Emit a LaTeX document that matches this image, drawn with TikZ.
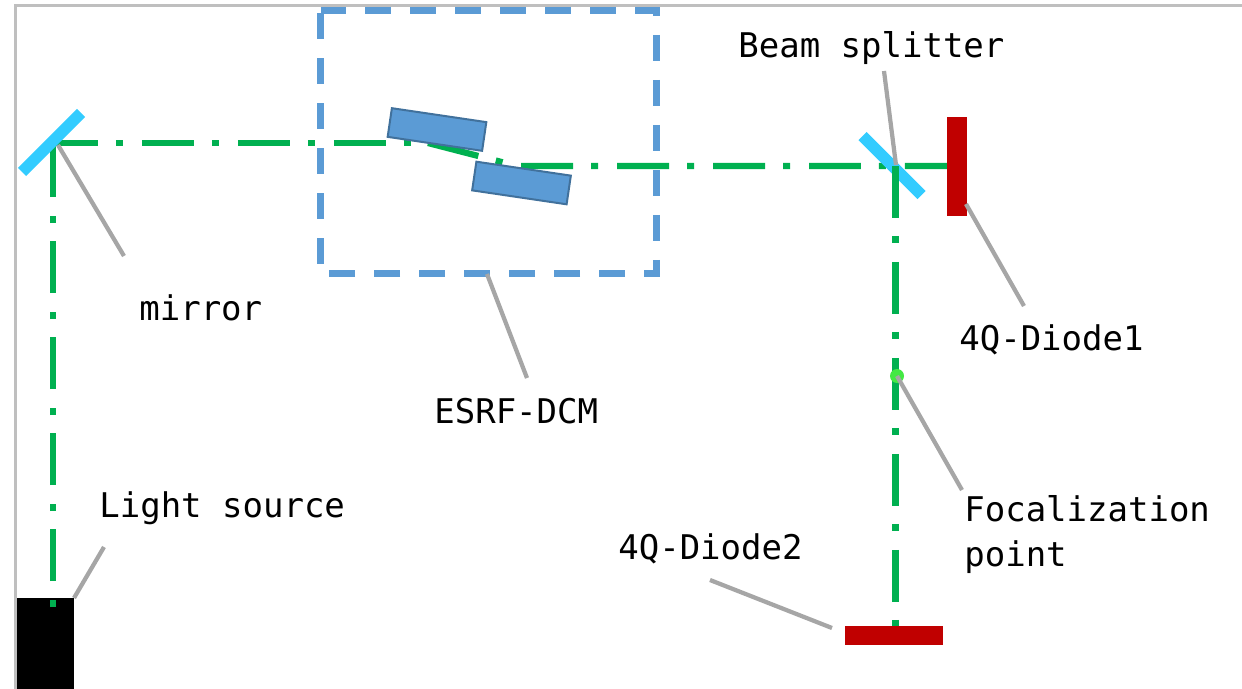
\documentclass[tikz,border=0pt]{standalone}
\usepackage{fontspec}
\usepackage{xcolor}
\setmonofont{DejaVu Sans Mono}
\definecolor{beamgreen}{HTML}{00B050}
\definecolor{boxblue}{HTML}{5B9BD5}
\definecolor{crystaledge}{HTML}{41719C}
\definecolor{mirrorblue}{HTML}{33CCFF}
\definecolor{diodered}{HTML}{C00000}
\definecolor{leadgray}{HTML}{A6A6A6}
\definecolor{framegray}{HTML}{BFBFBF}
\definecolor{focusgreen}{HTML}{44E844}
\tikzset{
	beam/.style={beamgreen, line width=0.125cm, dash pattern=on 1.04cm off 0.36cm on 0.14cm off 0.38cm},
	leader/.style={leadgray, line width=0.085cm},
	mirrorbar/.style={mirrorblue, line width=0.23cm},
	crystal/.style={draw=crystaledge, line width=0.04cm, fill=boxblue, inner sep=0pt, minimum width=1.91cm, minimum height=0.58cm, rotate=-8.4},
	diode/.style={fill=diodered, inner sep=0pt},
	lbl/.style={font=\ttfamily\fontsize{19.35}{25.5}\selectfont, inner sep=0pt, anchor=base west}
}
\begin{document}
\begin{tikzpicture}[x=0.02cm, y=-0.02cm]
	\useasboundingbox (0,0) rectangle (1242,689);

	% Frame of the screenshot
	\draw[framegray, line width=0.05cm] (15.5,689) -- (15.5,5.5) -- (1242,5.5);

	% Light source
	\node[fill=black, inner sep=0pt, minimum width=1.14cm, minimum height=1.82cm] (source) at (45.5,643.5) {};

	% Beam points
	\coordinate (S) at (53,607);
	\coordinate (M) at (53,143);
	\coordinate (C1) at (428,143);
	\coordinate (C2) at (517,166);
	\coordinate (B) at (895.5,166);
	\coordinate (D1) at (948,166);
	\coordinate (D2) at (895.5,627);

	% Beam up to the first diode
	\draw[beam, dash phase=1.4cm] (S) -- (M);
	\draw[beam, dash phase=0.14cm] (M) -- (C1);
	\draw[beam] (C1) -- (C2) -- (D1);

	% Monochromator box and crystals
	\draw[boxblue, line width=0.14cm, dash pattern=on 0.52cm off 0.38cm] (320.5,10.5) -- (656,10.5) -- (656,274) -- (320.5,274) -- cycle;
	\node[crystal] (crystal1) at (437,129.5) {};
	\node[crystal] (crystal2) at (521.5,183) {};

	% Mirror and beam splitter
	\draw[mirrorbar] (81,113) -- (22,172);
	\draw[mirrorbar] (862.5,136) -- (921.5,195);

	% Beam down to the second diode
	\draw[beam] (B) -- (D2);

	% Diodes
	\node[diode, minimum width=0.4cm, minimum height=1.98cm] (diode1) at (957,166.5) {};
	\node[diode, minimum width=1.96cm, minimum height=0.38cm] (diode2) at (894,635.5) {};

	% Focalization point
	\node[circle, fill=focusgreen, inner sep=0pt, minimum size=0.28cm] (focus) at (897,376) {};

	% Leader ends
	\coordinate (mirrortip) at (124,256);
	\coordinate (mirrorend) at (58,145);
	\coordinate (dcmtip) at (527,378);
	\coordinate (dcmend) at (487,274);
	\coordinate (splittertip) at (884,71);
	\coordinate (splitterend) at (896,165);
	\coordinate (diodetip) at (1024,306);
	\coordinate (diodeend) at (966,204);
	\coordinate (focustip) at (962,490);
	\coordinate (sourcetip) at (104,547);
	\coordinate (sourceend) at (74,598);
	\coordinate (secondtip) at (710,580);
	\coordinate (secondend) at (832,628);

	% Leaders
	\draw[leader] (mirrorend) -- (mirrortip);
	\draw[leader] (dcmend) -- (dcmtip);
	\draw[leader] (splittertip) -- (splitterend);
	\draw[leader] (diodeend) -- (diodetip);
	\draw[leader] (focus.center) -- (focustip);
	\draw[leader] (sourceend) -- (sourcetip);
	\draw[leader] (secondtip) -- (secondend);

	% Labels
	\node[lbl] (mirrorlbl) at (139,321) {mirror};
	\node[lbl] (dcmlbl) at (434,424) {ESRF-DCM};
	\node[lbl] (splitterlbl) at (738,58) {Beam splitter};
	\node[lbl] (diodelbl) at (959,351) {4Q-Diode1};
	\node[lbl] (secondlbl) at (618,560) {4Q-Diode2};
	\node[lbl] (sourcelbl) at (99,518) {Light source};
	\node[lbl, align=left] (focuslbl) at (964,566) {Focalization\\point};
\end{tikzpicture}
\end{document}
